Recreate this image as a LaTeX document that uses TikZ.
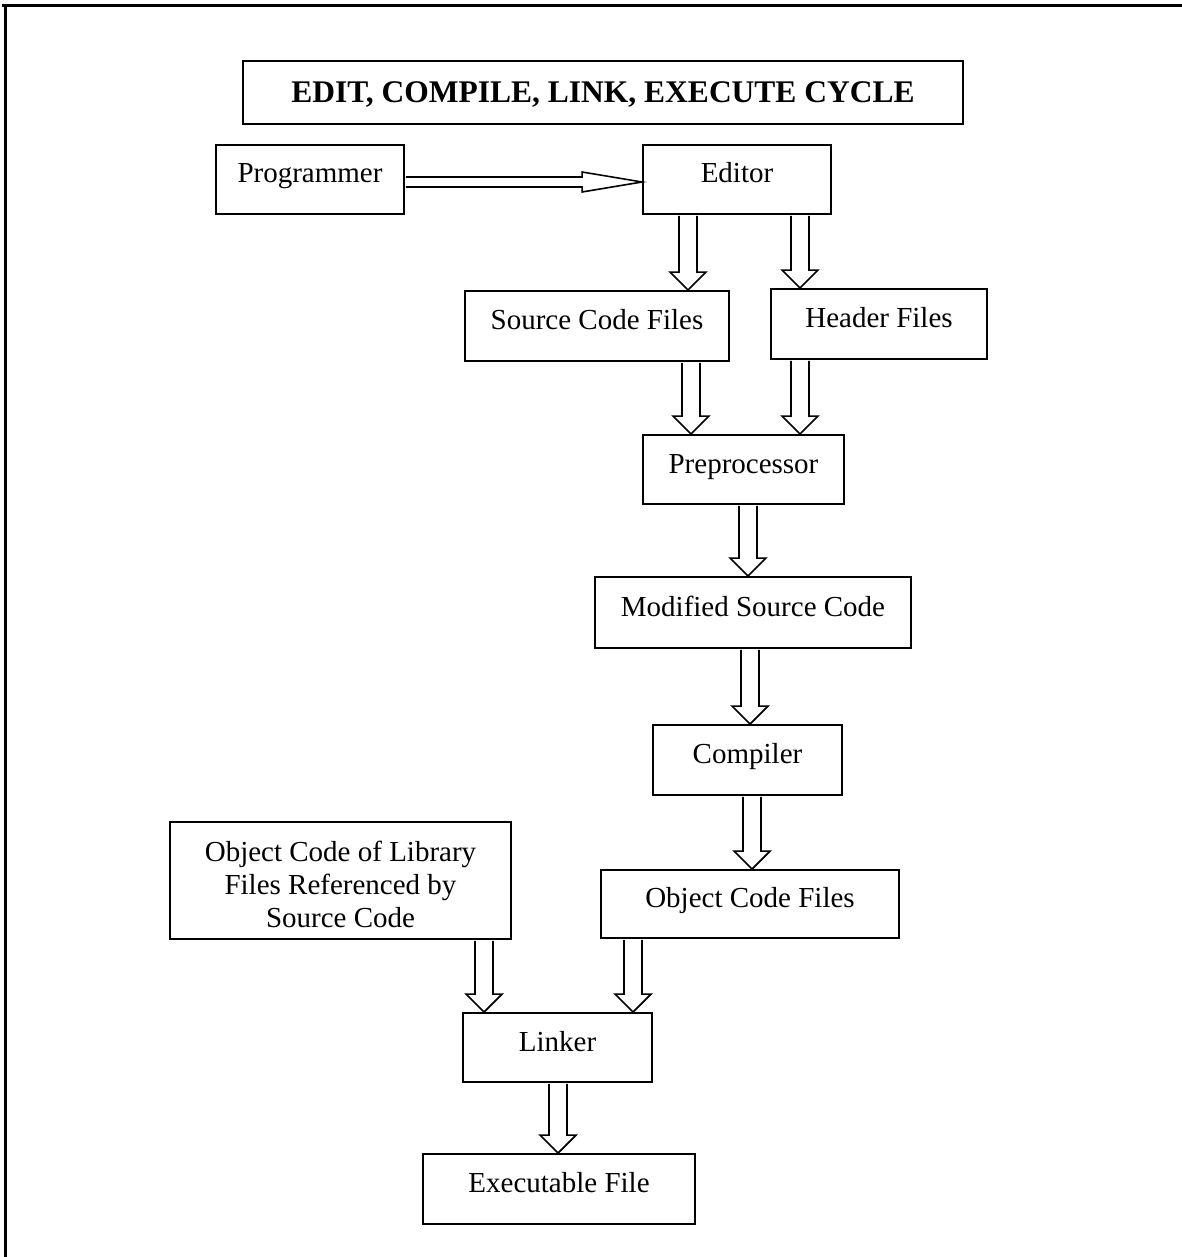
\documentclass[tikz,border=0pt]{standalone}
\usepackage{fontspec}
\setmainfont{Liberation Serif}
\usetikzlibrary{calc}
\tikzset{
  box/.style={draw=black, line width=1.8pt, inner sep=0pt, rectangle, align=center,
    font=\fontsize{29}{33}\selectfont, text height=19pt, text depth=12pt},
  fat/.style={draw=black, line width=1.6pt, fill=white, line join=miter},
  frame/.style={draw=black, line width=3pt}
}
\newcommand\varrow[3]{%
  \draw[fat] ($(#1 |- #2.south)+(-9,-1)$) -- ($(#1 |- #3.north)+(-9,18)$) -- ($(#1 |- #3.north)+(-18,18)$) -- (#1 |- #3.north) -- ($(#1 |- #3.north)+(18,18)$) -- ($(#1 |- #3.north)+(9,18)$) -- ($(#1 |- #2.south)+(9,-1)$);}
\begin{document}
\begin{tikzpicture}[x=1pt,y=1pt]
\useasboundingbox (0,0) rectangle (1182,-1257);
\fill[white] (0,0) rectangle (1182,-1257);
% outer frame (open at right and bottom)
\draw[frame] (2,-6) -- (1182,-6);
\draw[frame] (5,-6) -- (5,-1257);

% boxes
\node[box, minimum width=720, minimum height=63, text height=21pt, text depth=0pt,
      font=\fontsize{31.5}{36}\selectfont\bfseries] (title) at (603,-92.5) {EDIT, COMPILE, LINK, EXECUTE CYCLE};
\node[box, minimum width=188, minimum height=69] (prog) at (310,-179.5) {Programmer};
\node[box, minimum width=188, minimum height=69] (ed) at (737,-179.5) {Editor};
\node[box, minimum width=264, minimum height=70] (src) at (597,-326) {Source Code Files};
\node[box, minimum width=216, minimum height=70] (hdr) at (879,-324) {Header Files};
\node[box, minimum width=201, minimum height=69] (pre) at (743.5,-469.5) {Preprocessor};
\node[box, minimum width=316, minimum height=71] (mod) at (753,-612.5) {Modified Source Code};
\node[box, minimum width=189, minimum height=70] (comp) at (747.5,-760) {Compiler};
\node[box, minimum width=298, minimum height=68] (obj) at (750,-904) {Object Code Files};
\node[box, minimum width=341, minimum height=117, text height=94pt, text depth=0pt] (lib) at (340.5,-880.5)
  {Object Code of Library\\Files Referenced by\\Source Code};
\node[box, minimum width=189, minimum height=69] (lnk) at (557.5,-1047.5) {Linker};
\node[box, minimum width=272, minimum height=70] (exe) at (559,-1189) {Executable File};

% x positions of the vertical arrows
\coordinate (xa) at (688,0);
\coordinate (xb) at (800,0);
\coordinate (xc) at (691,0);
\coordinate (xd) at (748,0);
\coordinate (xe) at (750,0);
\coordinate (xf) at (752,0);
\coordinate (xg) at (484,0);
\coordinate (xh) at (633,0);
\coordinate (xi) at (558,0);
\coordinate (hy) at (0,-182);

% horizontal arrow Programmer -> Editor
\draw[fat] ($(prog.east |- hy)+(1,5)$) -- ($(ed.west |- hy)+(-60,5)$) -- ($(ed.west |- hy)+(-60,10)$)
  -- (ed.west |- hy) -- ($(ed.west |- hy)+(-60,-10)$) -- ($(ed.west |- hy)+(-60,-5)$) -- ($(prog.east |- hy)+(1,-5)$);

% vertical arrows
\varrow{xa}{ed}{src}
\varrow{xb}{ed}{hdr}
\varrow{xc}{src}{pre}
\varrow{xb}{hdr}{pre}
\varrow{xd}{pre}{mod}
\varrow{xe}{mod}{comp}
\varrow{xf}{comp}{obj}
\varrow{xg}{lib}{lnk}
\varrow{xh}{obj}{lnk}
\varrow{xi}{lnk}{exe}
\end{tikzpicture}
\end{document}
